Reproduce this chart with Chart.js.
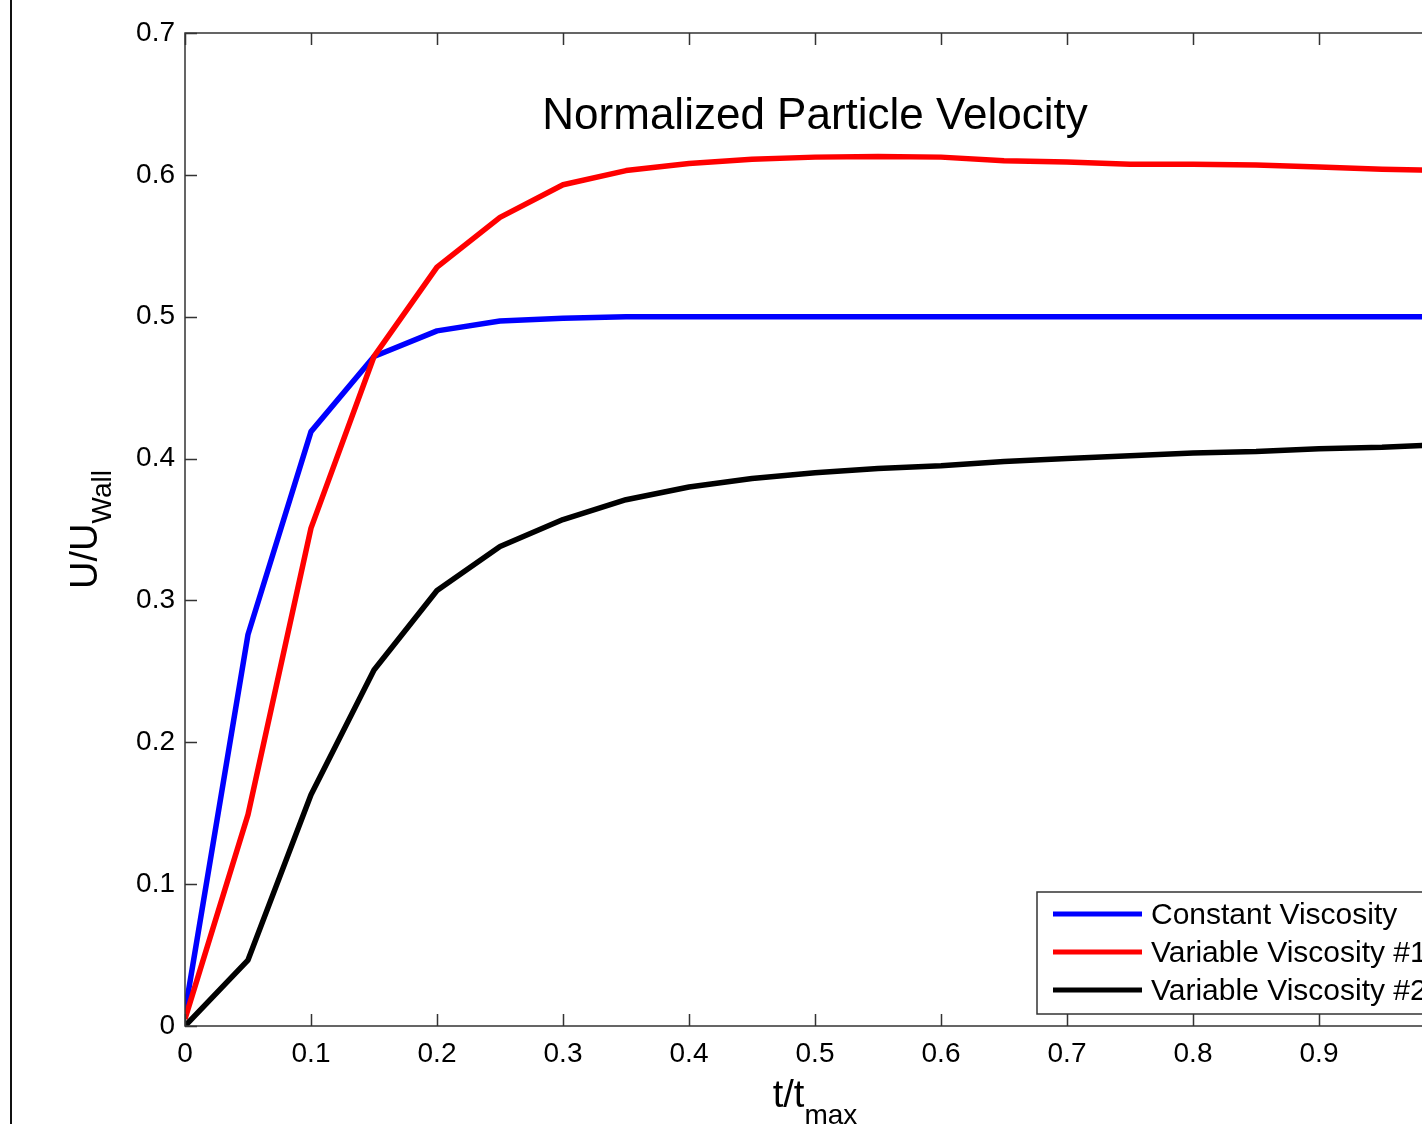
<!DOCTYPE html>
<html>
<head>
<meta charset="utf-8">
<script src="https://cdn.jsdelivr.net/npm/chart.js@4/dist/chart.umd.min.js"></script>
<style>
  html, body { margin: 0; padding: 0; background: #fff; }
  body { width: 1422px; height: 1124px; overflow: hidden; position: relative; }
  #plot { position: absolute; left: 0; top: 0; }
  .edge { position: absolute; left: 10px; top: 0; width: 2px; height: 1124px; background: #111; }
</style>
</head>
<body>
<canvas id="plot" width="1500" height="1124"></canvas>
<div class="edge"></div>
<script>
// time samples (t / t_max)
const tValues = [0, 0.05, 0.1, 0.15, 0.2, 0.25, 0.3, 0.35, 0.4, 0.45, 0.5,
  0.55, 0.6, 0.65, 0.7, 0.75, 0.8, 0.85, 0.9, 0.95, 1.0];

// U / U_wall for each case
const constantVisc = [0.01, 0.276, 0.419, 0.472, 0.490, 0.497, 0.499, 0.500, 0.500, 0.500, 0.500,
  0.500, 0.500, 0.500, 0.500, 0.500, 0.500, 0.500, 0.500, 0.500, 0.500];
const variableVisc1 = [0.005, 0.149, 0.351, 0.472, 0.535, 0.570, 0.593, 0.603, 0.608, 0.611, 0.6125,
  0.613, 0.6125, 0.610, 0.609, 0.6075, 0.6075, 0.607, 0.6055, 0.604, 0.603];
const variableVisc2 = [0, 0.0465, 0.163, 0.251, 0.307, 0.338, 0.357, 0.371, 0.380, 0.386, 0.390,
  0.393, 0.395, 0.398, 0.400, 0.402, 0.404, 0.405, 0.407, 0.408, 0.410];

const seriesLabels = ['Constant Viscosity', 'Variable Viscosity #1', 'Variable Viscosity #2'];
const seriesColors = ['#0000ff', '#ff0000', '#000000'];

const FONT = '"Liberation Sans", Arial, Helvetica, sans-serif';

function toPoints(ys) {
  return tValues.map((t, i) => ({ x: t, y: ys[i] }));
}

// MATLAB-ish frame: box, inward ticks, title, axis labels, legend
const matlabFrame = {
  id: 'matlabFrame',
  afterDraw(chart) {
    const ctx = chart.ctx;
    const area = chart.chartArea;
    const xs = chart.scales.x;
    const ys = chart.scales.y;
    const tick = 12;

    ctx.save();
    ctx.strokeStyle = '#333';
    ctx.lineWidth = 1.5;
    ctx.strokeRect(area.left, area.top, area.right - area.left, area.bottom - area.top);

    ctx.beginPath();
    xs.ticks.forEach(t => {
      const px = Math.round(xs.getPixelForValue(t.value)) + 0.5;
      ctx.moveTo(px, area.bottom); ctx.lineTo(px, area.bottom - tick);
      ctx.moveTo(px, area.top); ctx.lineTo(px, area.top + tick);
    });
    ys.ticks.forEach(t => {
      const py = Math.round(ys.getPixelForValue(t.value)) + 0.5;
      ctx.moveTo(area.left, py); ctx.lineTo(area.left + tick, py);
      ctx.moveTo(area.right, py); ctx.lineTo(area.right - tick, py);
    });
    ctx.stroke();

    // title inside the axes
    ctx.fillStyle = '#000';
    ctx.font = '44px ' + FONT;
    ctx.textAlign = 'center';
    ctx.textBaseline = 'alphabetic';
    ctx.fillText('Normalized Particle Velocity', (area.left + area.right) / 2, 129);

    // x label t/t_max
    const xMid = (area.left + area.right) / 2;
    ctx.font = '38px ' + FONT;
    ctx.textAlign = 'left';
    const mainW = ctx.measureText('t/t').width;
    ctx.font = '28px ' + FONT;
    const subW = ctx.measureText('max').width;
    const x0 = xMid - (mainW + subW) / 2;
    ctx.font = '38px ' + FONT;
    ctx.fillText('t/t', x0, 1107);
    ctx.font = '28px ' + FONT;
    ctx.fillText('max', x0 + mainW, 1124);

    // y label U/U_Wall
    ctx.save();
    const yMid = (area.top + area.bottom) / 2;
    ctx.translate(97, yMid);
    ctx.rotate(-Math.PI / 2);
    ctx.font = '38px ' + FONT;
    const yMainW = ctx.measureText('U/U').width;
    ctx.font = '28px ' + FONT;
    const ySubW = ctx.measureText('Wall').width;
    const y0 = -(yMainW + ySubW) / 2;
    ctx.font = '38px ' + FONT;
    ctx.fillText('U/U', y0, 0);
    ctx.font = '28px ' + FONT;
    ctx.fillText('Wall', y0 + yMainW, 14);
    ctx.restore();

    // legend
    const lx = 1037, ly = 892, lw = 420, lh = 122;
    ctx.fillStyle = '#fff';
    ctx.fillRect(lx, ly, lw, lh);
    ctx.strokeStyle = '#333';
    ctx.lineWidth = 1.5;
    ctx.strokeRect(lx, ly, lw, lh);
    ctx.font = '30px ' + FONT;
    ctx.textBaseline = 'middle';
    ctx.textAlign = 'left';
    seriesLabels.forEach((label, i) => {
      const rowY = 914 + i * 38;
      ctx.strokeStyle = seriesColors[i];
      ctx.lineWidth = 5;
      ctx.beginPath();
      ctx.moveTo(1053, rowY);
      ctx.lineTo(1142, rowY);
      ctx.stroke();
      ctx.fillStyle = '#000';
      ctx.fillText(label, 1151, rowY + 2);
    });
    ctx.restore();
  }
};

const ctx = document.getElementById('plot').getContext('2d');
new Chart(ctx, {
  type: 'line',
  data: {
    datasets: [
      { label: seriesLabels[0], data: toPoints(constantVisc), borderColor: seriesColors[0], order: 3 },
      { label: seriesLabels[1], data: toPoints(variableVisc1), borderColor: seriesColors[1], order: 2 },
      { label: seriesLabels[2], data: toPoints(variableVisc2), borderColor: seriesColors[2], order: 1 }
    ].map(d => Object.assign(d, {
      borderWidth: 5.5,
      pointRadius: 0,
      tension: 0,
      fill: false,
      borderJoinStyle: 'round'
    }))
  },
  options: {
    responsive: false,
    animation: false,
    devicePixelRatio: 1,
    layout: { padding: { top: 33, right: 55, left: 0, bottom: 0 } },
    plugins: {
      legend: { display: false },
      tooltip: { enabled: false },
      title: { display: false }
    },
    scales: {
      x: {
        type: 'linear',
        min: 0,
        max: 1,
        grid: { display: false, drawTicks: false },
        border: { display: false },
        afterFit: s => { s.height = 98; },
        ticks: {
          stepSize: 0.1,
          padding: 11,
          maxRotation: 0,
          color: '#000',
          font: { family: FONT, size: 28 },
          callback: v => String(Math.round(v * 10) / 10)
        }
      },
      y: {
        min: 0,
        max: 0.7,
        grid: { display: false, drawTicks: false },
        border: { display: false },
        afterFit: s => { s.width = 185; },
        ticks: {
          stepSize: 0.1,
          padding: 10,
          color: '#000',
          font: { family: FONT, size: 28 },
          callback: v => String(Math.round(v * 10) / 10)
        }
      }
    }
  },
  plugins: [matlabFrame]
});
</script>
</body>
</html>
